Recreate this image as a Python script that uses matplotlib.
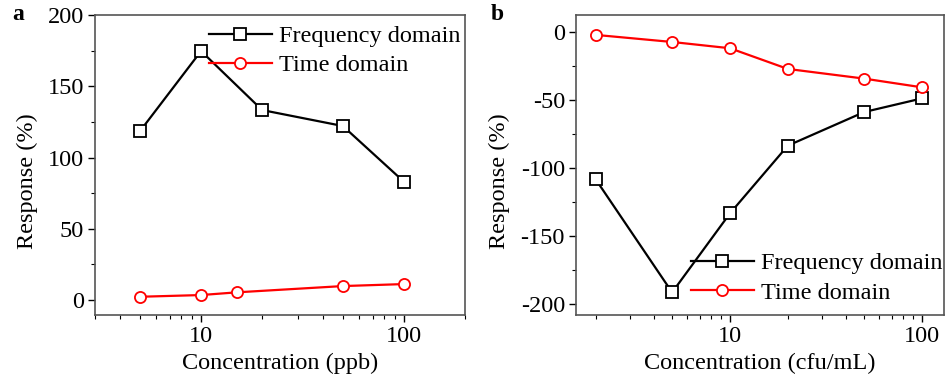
import matplotlib
matplotlib.use("Agg")
import matplotlib.pyplot as plt
from matplotlib.ticker import LogLocator, MultipleLocator, NullFormatter, FixedLocator

plt.rcParams['font.family'] = ['Liberation Serif', 'DejaVu Serif']
plt.rcParams['axes.unicode_minus'] = False

# Panel a
a_freq_x = [5, 10, 20, 50, 100]
a_freq_y = [118.5, 174.7, 133.3, 122.1, 83.0]
a_time_x = [5, 10, 15, 50, 100]
a_time_y = [2.3, 3.5, 5.4, 9.8, 11.2]

# Panel b
b_x = [2, 5, 10, 20, 50, 100]
b_freq_y = [-108.4, -191.4, -133.4, -83.7, -59.0, -49.0]
b_time_y = [-2.4, -7.6, -12.2, -27.4, -34.5, -40.9]

W, H = 948, 385
fig = plt.figure(figsize=(W/100, H/100), dpi=100)

def add_ax(l, r, t, b):
    return fig.add_axes([l/W, 1 - b/H, (r-l)/W, (b-t)/H])

axa = add_ax(95, 465, 15, 315)
axb = add_ax(576, 944, 15, 315)

FS = 17.5
spine_col = '#555555'

def style(ax):
    ax.set_xscale('log')
    for s in ax.spines.values():
        s.set_color(spine_col)
        s.set_linewidth(1.2)
    ax.tick_params(axis='both', which='major', direction='out', length=5, width=1.0,
                   labelsize=FS, colors='black', pad=3)
    ax.tick_params(axis='both', which='minor', direction='out', length=3, width=0.8)
    ax.tick_params(top=False, right=False)
    ax.xaxis.set_major_locator(FixedLocator([10, 100]))
    ax.xaxis.set_major_formatter(matplotlib.ticker.FuncFormatter(lambda v, p: f"{int(v)}"))
    ax.xaxis.set_minor_locator(LogLocator(base=10, subs=range(2, 10)))
    ax.xaxis.set_minor_formatter(NullFormatter())
    ax.yaxis.set_minor_locator(MultipleLocator(25))

line_kw = dict(lw=1.6, markersize=8, markerfacecolor='white', markeredgewidth=1.3)

axa.plot(a_freq_x, a_freq_y, '-s', color='black', label='Frequency domain', **line_kw)
axa.plot(a_time_x, a_time_y, '-o', color='red', label='Time domain', **line_kw)
style(axa)
axa.set_xlim(3, 200)
axa.set_ylim(-10.5, 200)
axa.yaxis.set_major_locator(MultipleLocator(50))
axa.set_xlabel('Concentration (ppb)', fontsize=FS, labelpad=4)
axa.set_ylabel('Response (%)', fontsize=FS)
axa.yaxis.set_label_coords(-0.155, 0.445)
axa.legend(loc='upper right', bbox_to_anchor=(1.028, 1.015), frameon=False, fontsize=FS,
           handlelength=2.6, handletextpad=0.3, labelspacing=0.3, borderaxespad=0.2)

axb.plot(b_x, b_freq_y, '-s', color='black', label='Frequency domain', **line_kw)
axb.plot(b_x, b_time_y, '-o', color='red', label='Time domain', **line_kw)
style(axb)
axb.set_xlim(1.58, 130)
axb.set_ylim(-208, 12.2)
axb.yaxis.set_major_locator(MultipleLocator(50))
axb.set_xlabel('Concentration (cfu/mL)', fontsize=FS, labelpad=4)
axb.set_ylabel('Response (%)', fontsize=FS)
axb.yaxis.set_label_coords(-0.178, 0.445)
axb.legend(loc='lower right', bbox_to_anchor=(1.049, -0.027), frameon=False, fontsize=FS,
           handlelength=2.6, handletextpad=0.3, labelspacing=0.3, borderaxespad=0.4)

fig.text(12/W, 1 - 15/H, 'a', fontsize=17, fontweight='bold', va='center', ha='left')
fig.text(491/W, 1 - 15/H, 'b', fontsize=17, fontweight='bold', va='center', ha='left')

fig.savefig('out.png', dpi=100)
